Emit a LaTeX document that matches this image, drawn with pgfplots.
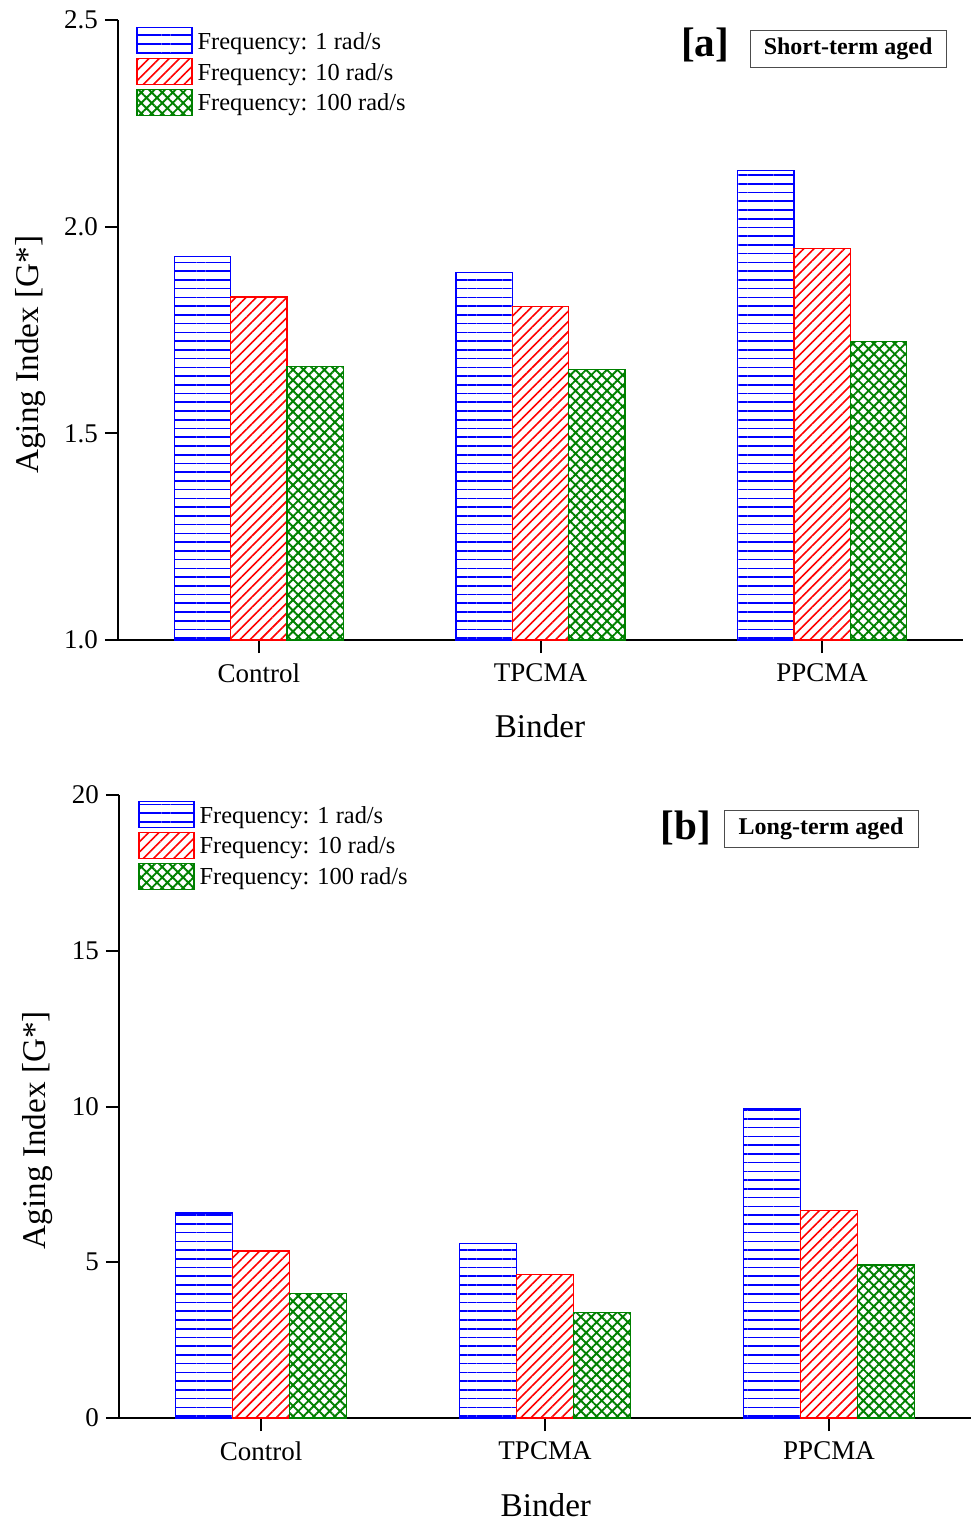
\documentclass[border=0pt]{standalone}
\usepackage{fontspec}
\setmainfont{Liberation Serif}
\usepackage{pgfplots}
\pgfplotsset{compat=1.18}
\usetikzlibrary{patterns.meta}

\definecolor{fblue}{RGB}{0,0,255}
\definecolor{fred}{RGB}{255,0,0}
\definecolor{fgreen}{RGB}{0,128,0}

\pgfplotsset{
  agingpanel/.style={
    scale only axis,
    axis lines*=left,
    axis line style={line width=1pt, black},
    tick align=outside,
    major tick length=6.5pt,
    major tick style={line width=1pt, black},
    xmin=-0.5, xmax=2.5,
    xtick={0,1,2},
    xticklabels={Control,TPCMA,PPCMA},
    xticklabel style={yshift=-2pt},
    ybar=0pt,
    bar width=0.2,
    /pgf/number format/assume math mode=true,
    tick label style={font=\fontsize{13.5}{16}\selectfont},
    label style={font=\fontsize{16.6}{20}\selectfont},
    legend cell align=left,
    legend image code/.code={\draw[##1, line width=0.6pt] (0pt,-6.5pt) rectangle (27.5pt,6.5pt);},
    legend style={draw=none, fill=none, inner sep=0pt, row sep=1.8pt,
      font=\fontsize{12.2}{14}\selectfont,
      nodes={inner sep=0pt, text depth=0pt},
      /tikz/every odd column/.append style={column sep=2.5pt}},
  },
  f1/.style={draw=fblue, line width=0.6pt, pattern color=fblue,
    pattern={Lines[angle=0, distance=4.37pt, line width=0.8pt]}},
  f10/.style={draw=fred, line width=0.6pt, pattern color=fred,
    pattern={Lines[angle=45, distance=3.6pt, line width=0.8pt]}},
  f100/.style={draw=fgreen, line width=0.6pt, pattern color=fgreen,
    pattern={Hatch[angle=45, distance=3.7pt, line width=0.95pt]}},
}

\begin{document}
\begin{tikzpicture}
\useasboundingbox (0,0) rectangle (486.5pt,-760.5pt);

% (a) short-term aged binders
\begin{axis}[agingpanel,
  at={(59pt,-320pt)}, anchor=south west,
  width=422.5pt, height=310pt,
  ymin=1, ymax=2.5, ytick={1,1.5,2,2.5},
  yticklabel style={/pgf/number format/.cd, fixed, fixed zerofill, precision=1},
  xlabel={Binder}, ylabel={Aging Index [G*]},
  xlabel style={at={(axis description cs:0.4994,-0.139)}, anchor=center},
  ylabel style={at={(axis description cs:-0.104,0.46)}, anchor=center},
  legend style={at={(axis description cs:0.0213,0.989)}, anchor=north west},
]
\addplot[f1] coordinates {(0,1.927) (1,1.890) (2,2.135)};
\addplot[f10] coordinates {(0,1.830) (1,1.806) (2,1.948)};
\addplot[f100] coordinates {(0,1.662) (1,1.654) (2,1.723)};
\legend{Frequency: 1 rad/s, Frequency: 10 rad/s, Frequency: 100 rad/s}
\node[font=\bfseries\fontsize{20.6}{24}\selectfont] at (rel axis cs:0.6947,0.9597) {[a]};
\node[draw=black!70, line width=0.5pt, minimum width=98pt, minimum height=18.5pt,
  inner sep=0pt, font=\bfseries\fontsize{12}{14}\selectfont]
  at (rel axis cs:0.864,0.954) {Short-term aged};
\end{axis}

% (b) long-term aged binders
\begin{axis}[agingpanel,
  at={(59.5pt,-709pt)}, anchor=south west,
  width=426pt, height=311.5pt,
  ymin=0, ymax=20, ytick={0,5,10,15,20},
  xlabel={Binder}, ylabel={Aging Index [G*]},
  xlabel style={at={(axis description cs:0.501,-0.14)}, anchor=center},
  ylabel style={at={(axis description cs:-0.095,0.462)}, anchor=center},
  legend style={at={(axis description cs:0.0223,0.991)}, anchor=north west},
]
\addplot[f1] coordinates {(0,6.58) (1,5.59) (2,9.92)};
\addplot[f10] coordinates {(0,5.36) (1,4.62) (2,6.65)};
\addplot[f100] coordinates {(0,4.01) (1,3.40) (2,4.91)};
\legend{Frequency: 1 rad/s, Frequency: 10 rad/s, Frequency: 100 rad/s}
\node[font=\bfseries\fontsize{20.6}{24}\selectfont] at (rel axis cs:0.6655,0.947) {[b]};
\node[draw=black!70, line width=0.5pt, minimum width=97pt, minimum height=18.5pt,
  inner sep=0pt, font=\bfseries\fontsize{12}{14}\selectfont]
  at (rel axis cs:0.824,0.946) {Long-term aged};
\end{axis}
\end{tikzpicture}
\end{document}
